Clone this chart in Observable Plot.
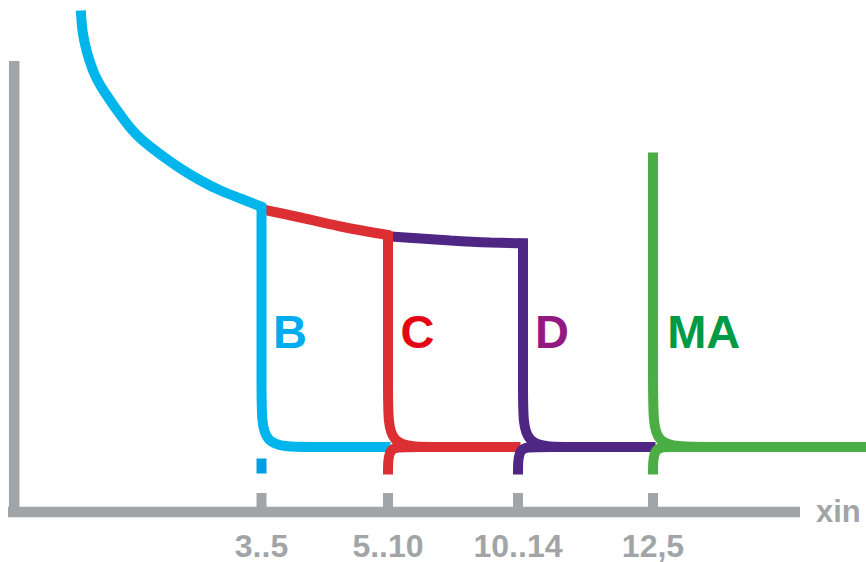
<!DOCTYPE html>
<html>
<head>
<meta charset="utf-8">
<script src="https://cdn.jsdelivr.net/npm/d3@7"></script>
<script src="https://cdn.jsdelivr.net/npm/@observablehq/plot@0.6"></script>
<style>
  html, body { margin: 0; padding: 0; background: #ffffff; }
  #chart svg { display: block; }
</style>
</head>
<body>
<div id="chart"></div>
<script>
// Schematic units: x = multiple of rated current (schematic), y = trip time (schematic)
const series = ["B", "C", "D", "MA"];

// Thermal (inverse-time) arcs, [x, y]
const arcB = [[8.03,55.2],[8.2,53.2],[8.6,51.2],[9.25,49.2],[10.3,47.2],[12.4,44.2],[14.0,42.4],[16.0,40.8],[18.0,39.4],[20.0,38.2],[22.0,37.2],[24.0,36.4],[26.3,35.5]];
const arcC = [[26.2,35.3],[30.0,34.5],[34.0,33.6],[39.0,32.7]];
const arcD = [[39.0,32.6],[45.0,32.2],[49.0,32.0],[52.7,31.9]];

// Magnetic (instantaneous) legs, [x, y]
const legB  = [[26.1,35.9],[26.1,16.1],[26.1,11.55],[30.6,11.55],[39.0,11.55]];
const legC  = [[38.75,33.1],[38.75,16.1],[38.75,11.55],[43.25,11.55],[47.0,11.55]];
const legD  = [[52.25,32.4],[52.25,16.1],[52.25,11.55],[56.75,11.55],[60.0,11.55]];
const legMA = [[65.25,41.0],[65.25,16.1],[65.25,11.55],[69.75,11.55],[86.6,11.55]];

// Lower-limit stubs, [x, y]
const stubB  = [[26.1,10.4],[26.1,8.9]];
const stubC  = [[38.75,8.8],[38.75,11.55],[40.35,11.55],[52.0,11.55]];
const stubD  = [[51.75,8.8],[51.75,11.55],[53.35,11.55],[65.5,11.55]];
const stubMA = [[65.25,8.8],[65.25,11.55],[66.85,11.55],[70.0,11.55]];

// Axis ticks
const tickPositions = [26.1, 38.75, 51.75, 65.25];
const tickLabels = ["3..5", "5..10", "10..14", "12,5"];
const xAxisLabel = "xin";

// Curve labels
const labelNames = ["B", "C", "D", "MA"];
const labelX = [27.25, 40.0, 53.45, 66.67];
const labelY = [23.0, 23.0, 23.0, 23.0];

// Axis extents
const xAxisSpan = [0.8, 80.0];
const yAxisSpan = [4.55, 50.1];
const axisOrigin = [1.37, 5.05];
const tickTop = 6.9;

// Palettes
const lineColors = {B: "#00b5ec", C: "#dc2f34", D: "#4f2683", MA: "#4aae44"};
const stubColors = {B: "#009fe3", C: "#dc2f34", D: "#4f2683", MA: "#4aae44"};
const textColors = {B: "#00aeef", C: "#e30613", D: "#93187f", MA: "#009a44"};
const gray = "#a1a5a8";

function rows(points, s, part) {
  return points.map(([x, y]) => ({series: s, part, key: s + "-" + part, x, y}));
}

const arcs = [...rows(arcB, "B", "arc"), ...rows(arcC, "C", "arc"), ...rows(arcD, "D", "arc")];
const legs = [
  ...rows(legB, "B", "leg"), ...rows(stubB, "B", "stub"),
  ...rows(legC, "C", "leg"), ...rows(stubC, "C", "stub"),
  ...rows(legD, "D", "leg"), ...rows(stubD, "D", "stub"),
  ...rows(legMA, "MA", "leg"), ...rows(stubMA, "MA", "stub")
];
const labels = labelNames.map((t, i) => ({t, x: labelX[i], y: labelY[i]}));
const ticks = tickPositions.map((x, i) => ({x, label: tickLabels[i]}));

const font = "'Liberation Sans', Arial, Helvetica, sans-serif";

const chart = Plot.plot({
  width: 866,
  height: 562,
  margin: 0,
  x: {domain: [0, 86.6], axis: null},
  y: {domain: [0, 56.2], axis: null},
  color: {type: "identity"},
  style: {background: "#ffffff", fontFamily: font},
  marks: [
    // axes
    Plot.ruleX([axisOrigin[0]], {y1: yAxisSpan[0], y2: yAxisSpan[1], stroke: gray, strokeWidth: 10.5}),
    Plot.ruleY([axisOrigin[1]], {x1: xAxisSpan[0], x2: xAxisSpan[1], stroke: gray, strokeWidth: 10.5}),
    Plot.ruleX(ticks, {x: "x", y1: axisOrigin[1], y2: tickTop, stroke: gray, strokeWidth: 10}),
    Plot.text(ticks, {x: "x", y: 1.58, text: "label", fill: gray, fontSize: 32, fontWeight: "bold", textAnchor: "middle"}),
    Plot.text([xAxisLabel], {x: 81.55, y: 5.0, text: d => d, fill: gray, fontSize: 31, fontWeight: "bold", textAnchor: "start"}),
    // curves
    Plot.line(arcs, {x: "x", y: "y", z: "key", stroke: d => lineColors[d.series], strokeWidth: 10, curve: "natural", strokeLinecap: "butt", strokeLinejoin: "miter"}),
    Plot.line(legs, {x: "x", y: "y", z: "key", stroke: d => (d.part === "stub" ? stubColors : lineColors)[d.series], strokeWidth: 10, curve: "basis", strokeLinecap: "butt", strokeLinejoin: "miter"}),
    // labels
    Plot.text(labels, {x: "x", y: "y", text: "t", fill: d => textColors[d.t], fontSize: 47, fontWeight: "bold", textAnchor: "start"})
  ]
});

document.getElementById("chart").appendChild(chart);
</script>
</body>
</html>
